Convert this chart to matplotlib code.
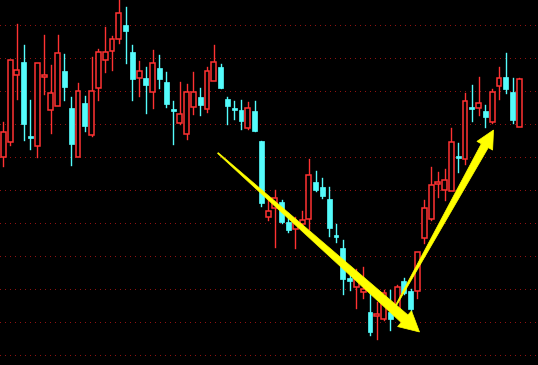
import matplotlib
matplotlib.use("Agg")
import matplotlib.pyplot as plt
from matplotlib.patches import Rectangle, Polygon
import numpy as np

# daily bars (open, high, low, close)
opens = [11.98, 12.13, 12.80, 12.93, 12.18, 12.09, 12.78, 12.45, 12.49, 12.84,
         12.47, 11.98, 12.52, 12.20, 12.67, 12.95, 13.04, 13.16, 13.30, 13.03,
         12.77, 12.77, 12.63, 12.87, 12.73, 12.45, 12.32, 12.21, 12.48, 12.58,
         12.46, 12.74, 12.88, 12.56, 12.46, 12.45, 12.27, 12.44, 12.14, 11.38,
         11.47, 11.53, 11.33, 11.26, 11.31, 11.36, 11.73, 11.68, 11.56, 11.19,
         11.07, 10.77, 10.68, 10.63, 10.43, 10.39, 10.36, 10.43, 10.43, 10.74,
         10.64, 10.64, 11.17, 11.36, 11.71, 11.65, 11.64, 11.98, 11.96, 12.47,
         12.47, 12.44, 12.33, 12.69, 12.78, 12.63, 12.28]
highs = [12.33, 12.95, 13.31, 13.10, 12.55, 12.92, 13.20, 12.90, 13.20, 13.01,
         12.58, 12.72, 12.59, 12.98, 13.06, 13.28, 13.19, 13.58, 13.48, 13.10,
         12.94, 12.88, 13.05, 13.00, 12.83, 12.54, 12.73, 12.71, 12.83, 12.67,
         12.88, 13.10, 12.91, 12.58, 12.54, 12.55, 12.53, 12.54, 12.14, 11.56,
         11.65, 11.55, 11.42, 11.38, 11.44, 11.96, 11.84, 11.77, 11.68, 11.31,
         11.15, 10.82, 10.86, 10.88, 10.62, 10.53, 10.65, 10.65, 10.70, 10.77,
         10.66, 11.03, 11.55, 11.88, 11.83, 11.86, 12.27, 12.12, 12.62, 12.70,
         12.78, 12.50, 12.66, 12.88, 13.02, 12.77, 12.77]
lows = [11.89, 12.10, 12.56, 12.15, 12.06, 11.98, 12.61, 12.22, 12.49, 12.55,
        11.90, 11.98, 12.24, 12.19, 12.55, 12.83, 12.85, 13.12, 12.92, 12.55,
        12.59, 12.42, 12.47, 12.67, 12.48, 12.11, 12.31, 12.16, 12.41, 12.40,
        12.43, 12.74, 12.67, 12.31, 12.36, 12.26, 12.26, 12.24, 11.49, 11.35,
        11.08, 11.32, 11.23, 11.07, 11.30, 11.26, 11.64, 11.57, 11.19, 11.13,
        10.61, 10.65, 10.47, 10.57, 10.20, 10.16, 10.35, 10.25, 10.42, 10.61,
        10.44, 10.57, 11.12, 11.35, 11.58, 11.55, 11.64, 11.83, 11.91, 12.34,
        12.40, 12.28, 12.32, 12.56, 12.62, 12.32, 12.28]
closes = [12.23, 12.95, 12.85, 12.31, 12.17, 12.92, 12.79, 12.62, 13.02, 12.68,
          12.11, 12.64, 12.29, 12.64, 13.03, 13.03, 13.16, 13.42, 13.24, 12.76,
          12.84, 12.70, 12.92, 12.76, 12.51, 12.44, 12.41, 12.63, 12.63, 12.50,
          12.84, 12.93, 12.67, 12.49, 12.45, 12.34, 12.47, 12.24, 11.52, 11.44,
          11.57, 11.33, 11.25, 11.32, 11.35, 11.80, 11.65, 11.59, 11.27, 11.18,
          10.76, 10.74, 10.76, 10.66, 10.23, 10.40, 10.62, 10.36, 10.68, 10.62,
          10.46, 11.03, 11.47, 11.70, 11.72, 11.75, 12.13, 11.97, 12.54, 12.46,
          12.52, 12.38, 12.63, 12.77, 12.66, 12.35, 12.76]

# trend arrows drawn on the chart: (bar index, price) tail -> head
down_arrow = [(31.6, 12.02), (61.3, 10.23)]
up_arrow = [(57.7, 10.48), (72.2, 12.25)]

grid_levels = [10.00, 10.33, 10.66, 10.99, 11.32, 11.65, 11.98, 12.31, 12.64, 12.97, 13.30]

UP = '#ff3232'
DOWN = '#54fcfc'
ARROW = '#ffff00'

fig = plt.figure(figsize=(5.38, 3.65), dpi=100)
fig.patch.set_facecolor('black')
ax = fig.add_axes([0, 0, 1, 1])
ax.set_facecolor('black')
ax.set_xlim(-0.49, 78.75)
ax.set_ylim(9.90, 13.55)
ax.axis('off')

for g in grid_levels:
    ax.axhline(g, color='#901212', lw=0.72, ls=(0, (1, 4.5)), zorder=1, antialiased=False)

w = 0.72
for i in range(len(opens)):
    o, h, l, c = opens[i], highs[i], lows[i], closes[i]
    lo, hi = min(o, c), max(o, c)
    if c >= o:
        # hollow red bar, wick does not go through the body
        ax.plot([i, i], [hi, h], color=UP, lw=1.0, zorder=2)
        ax.plot([i, i], [l, lo], color=UP, lw=1.0, zorder=2)
        ax.add_patch(Rectangle((i - w / 2, lo), w, max(hi - lo, 0.015),
                               facecolor='black', edgecolor=UP, lw=1.1, zorder=3))
    else:
        ax.plot([i, i], [l, h], color=DOWN, lw=1.0, zorder=2)
        ax.add_patch(Rectangle((i - w / 2, lo), w, max(hi - lo, 0.02),
                               facecolor=DOWN, edgecolor=DOWN, lw=0.5, zorder=3))


def draw_arrow(pts, shaft=4.5, head_w=10.0, head_len=20.0):
    # tapered arrow built in pixel space, then mapped back to data space
    fig.canvas.draw()
    p0 = ax.transData.transform(pts[0])
    p1 = ax.transData.transform(pts[1])
    d = p1 - p0
    d = d / np.hypot(d[0], d[1])
    n = np.array([-d[1], d[0]])
    base = p1 - d * head_len
    poly = [p0 + n * 0.5, base + n * shaft, base + n * head_w, p1,
            base - n * head_w, base - n * shaft, p0 - n * 0.5]
    poly = ax.transData.inverted().transform(np.array(poly))
    ax.add_patch(Polygon(poly, closed=True, facecolor=ARROW, edgecolor=ARROW,
                         lw=0.5, zorder=5))


draw_arrow(down_arrow, shaft=5.0, head_w=10.5, head_len=20.0)
draw_arrow(up_arrow, shaft=4.0, head_w=9.0, head_len=18.0)

fig.savefig('out.png', dpi=100, facecolor='black')
